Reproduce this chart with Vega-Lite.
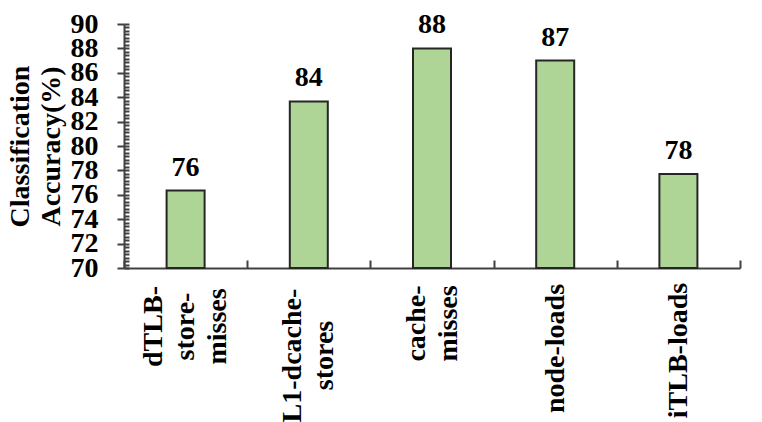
{
  "$schema": "https://vega.github.io/schema/vega-lite/v6.json",
  "width": 616,
  "height": 244,
  "autosize": {"type": "none"},
  "padding": {"left": 124, "top": 24, "right": 22, "bottom": 154},
  "background": "white",
  "config": {
    "view": {"stroke": null},
    "font": "Liberation Serif"
  },
  "data": {
    "values": [
      {"feature": "dTLB-store-misses", "accuracy": 76.35, "label": "76"},
      {"feature": "L1-dcache-stores", "accuracy": 83.65, "label": "84"},
      {"feature": "cache-misses", "accuracy": 88.0, "label": "88"},
      {"feature": "node-loads", "accuracy": 87.0, "label": "87"},
      {"feature": "iTLB-loads", "accuracy": 77.7, "label": "78"}
    ]
  },
  "resolve": {"axis": {"y": "independent"}},
  "encoding": {
    "x": {
      "field": "feature",
      "type": "nominal",
      "sort": null,
      "scale": {"paddingInner": 0, "paddingOuter": 0},
      "axis": {
        "title": null,
        "labelAngle": 270,
        "labelAlign": "center",
        "labelBaseline": "middle",
        "labelFont": "Liberation Serif",
        "labelFontWeight": "bold",
        "labelFontSize": 28,
        "labelColor": "black",
        "labelLineHeight": 32,
        "labelPadding": {
          "condition": [
            {"test": "datum.value == 'dTLB-store-misses'", "value": 66},
            {"test": "datum.value == 'L1-dcache-stores'", "value": 95},
            {"test": "datum.value == 'cache-misses'", "value": 63},
            {"test": "datum.value == 'node-loads'", "value": 88}
          ],
          "value": 90
        },
        "labelOffset": {
          "condition": [
            {"test": "datum.value == 'dTLB-store-misses'", "value": -32},
            {"test": "datum.value == 'L1-dcache-stores' || datum.value == 'cache-misses'", "value": -16}
          ],
          "value": 0
        },
        "labelExpr": "datum.value == 'dTLB-store-misses' ? ['dTLB-','store-','misses'] : datum.value == 'L1-dcache-stores' ? ['L1-dcache-','stores'] : datum.value == 'cache-misses' ? ['cache-','misses'] : datum.value",
        "tickBand": "extent",
        "tickSize": -8,
        "tickWidth": 2,
        "tickColor": "#404040",
        "domainColor": "#404040",
        "domainWidth": 2,
        "labelOverlap": false
      }
    }
  },
  "layer": [
    {
      "mark": {"type": "bar", "size": 38, "fill": "#afd596", "stroke": "#262626", "strokeWidth": 2},
      "encoding": {
        "y": {
          "field": "accuracy",
          "type": "quantitative",
          "scale": {"domain": [70, 90], "nice": false, "zero": false},
          "axis": {
            "values": [70,72,74,76,78,80,82,84,86,88,90],
            "format": "d",
            "tickSize": 7,
            "title": ["Classification", "Accuracy(%)"],
            "titleFont": "Liberation Serif",
            "titleFontWeight": "bold",
            "titleFontSize": 28,
            "titleColor": "black",
            "titleLineHeight": 31,
            "titleAngle": -90,
            "titleAlign": "center",
            "titleBaseline": "middle",
            "titleX": -104,
            "titleY": 122,
            "labelFont": "Liberation Serif",
            "labelFontWeight": "bold",
            "labelFontSize": 28,
            "labelColor": "black",
            "labelPadding": 19,
            "labelOverlap": false,
            "labelBaseline": "middle",
            "tickWidth": 2,
            "tickColor": "#404040",
            "domainColor": "#404040",
            "domainWidth": 2,
            "grid": false
          }
        },
        "y2": {"datum": 70}
      }
    },
    {
      "mark": {"type": "text", "fontSize": 28, "fontWeight": "bold", "font": "Liberation Serif", "baseline": "alphabetic", "dy": -15, "color": "black"},
      "encoding": {
        "y": {"field": "accuracy", "type": "quantitative", "axis": null},
        "text": {"field": "label"}
      }
    },
    {
      "mark": {"type": "rule", "opacity": 0},
      "encoding": {
        "y": {
          "datum": 70,
          "type": "quantitative",
          "axis": {
            "orient": "right",
            "offset": -616,
            "values": [70,70.2857,70.5714,70.8571,71.1429,71.4286,71.7143,72,72.2857,72.5714,72.8571,73.1429,73.4286,73.7143,74,74.2857,74.5714,74.8571,75.1429,75.4286,75.7143,76,76.2857,76.5714,76.8571,77.1429,77.4286,77.7143,78,78.2857,78.5714,78.8571,79.1429,79.4286,79.7143,80,80.2857,80.5714,80.8571,81.1429,81.4286,81.7143,82,82.2857,82.5714,82.8571,83.1429,83.4286,83.7143,84,84.2857,84.5714,84.8571,85.1429,85.4286,85.7143,86,86.2857,86.5714,86.8571,87.1429,87.4286,87.7143,88,88.2857,88.5714,88.8571,89.1429,89.4286,89.7143,90],
            "title": null,
            "labels": false,
            "domain": false,
            "grid": false,
            "tickSize": 5,
            "tickWidth": 2,
            "tickColor": "#404040"
          }
        }
      }
    }
  ]
}
